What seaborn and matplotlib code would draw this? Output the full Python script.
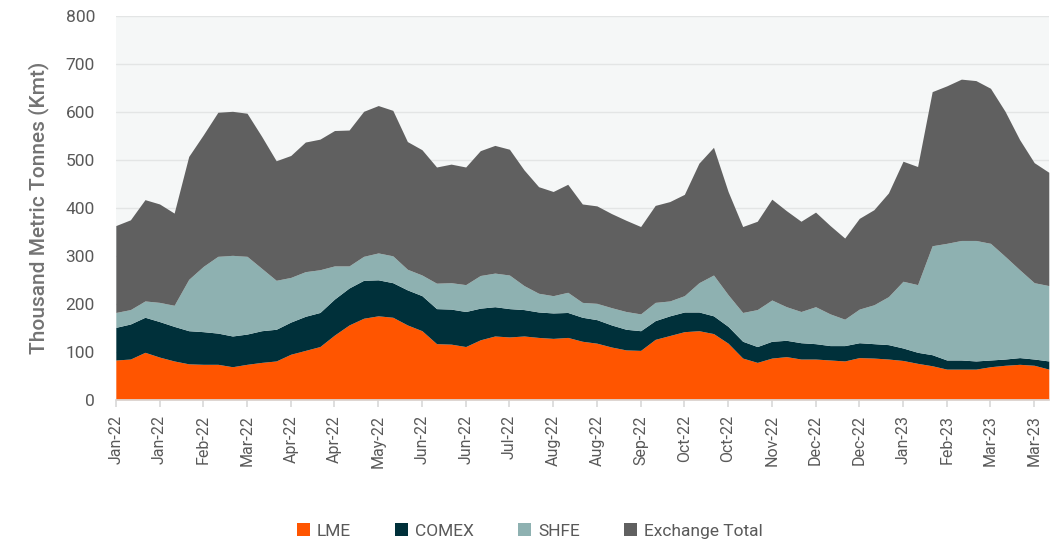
import numpy as np
import pandas as pd
import matplotlib
matplotlib.use("Agg")
import matplotlib.pyplot as plt
from matplotlib.patches import Patch
import seaborn as sns

# weekly stocks, Jan-22 .. Mar-23 (Kmt)
lme = [83, 85, 99, 89, 81, 75, 74, 74, 69, 74, 78, 81, 95, 103, 111, 135, 156,
       170, 175, 172, 156, 144, 117, 116, 111, 125, 133, 131, 133, 130, 128, 130, 122,
       118, 110, 104, 103, 126, 134, 142, 144, 138, 118, 87, 78, 87, 90, 85, 85,
       83, 81, 88, 87, 85, 82, 76, 71, 64, 64, 64, 69, 72, 74, 72, 64]
comex = [68, 73, 73, 74, 72, 69, 68, 65, 64, 63, 66, 66, 67, 71, 71, 75, 77,
         79, 75, 72, 73, 73, 73, 73, 73, 66, 61, 59, 55, 53, 53, 52, 50,
         49, 46, 43, 41, 39, 41, 41, 39, 37, 35, 35, 33, 35, 34, 34, 32,
         30, 32, 31, 30, 30, 26, 23, 23, 19, 19, 17, 14, 13, 14, 13, 17]
shfe = [31, 30, 34, 40, 44, 107, 136, 160, 168, 162, 130, 102, 93, 93, 89, 69, 46,
        50, 56, 56, 43, 43, 53, 55, 56, 68, 70, 70, 50, 39, 36, 42, 31,
        34, 36, 37, 35, 38, 31, 34, 61, 85, 66, 60, 77, 86, 70, 65, 77,
        66, 55, 70, 81, 100, 139, 141, 227, 243, 249, 251, 243, 214, 183, 159, 157]
total = [181, 187, 211, 205, 192, 256, 274, 300, 300, 298, 275, 249, 254, 270, 272, 282, 283,
         302, 307, 303, 266, 261, 242, 247, 245, 260, 266, 262, 241, 222, 217, 225, 205,
         203, 196, 190, 182, 202, 207, 211, 249, 266, 215, 179, 184, 210, 200, 188, 197,
         184, 169, 189, 198, 216, 250, 246, 321, 328, 336, 333, 323, 302, 271, 250, 236]

tick_labels = ['Jan-22', 'Jan-22', 'Feb-22', 'Mar-22', 'Apr-22', 'Apr-22', 'May-22',
               'Jun-22', 'Jun-22', 'Jul-22', 'Aug-22', 'Aug-22', 'Sep-22', 'Oct-22',
               'Oct-22', 'Nov-22', 'Dec-22', 'Dec-22', 'Jan-23', 'Feb-23', 'Mar-23', 'Mar-23']

series_names = ['LME', 'COMEX', 'SHFE', 'Exchange Total']
colors = ['#FF5500', '#00303A', '#8EB1B1', '#606060']

weeks = np.arange(len(lme))
df = pd.DataFrame({
    'week': np.tile(weeks, 4),
    'value': np.concatenate([lme, comex, shfe, total]),
    'exchange': np.repeat(series_names, len(lme)),
})

sns.set_theme(style='white')
plt.rcParams['font.family'] = ['Roboto', 'DejaVu Sans']

fig = plt.figure(figsize=(10.53, 5.44), dpi=100)
ax = fig.add_axes([0.110, 0.265, 0.886, 0.706])
ax.set_facecolor('#F5F7F7')

# last hue level ends up at the bottom of the stack
sns.histplot(data=df, x='week', weights='value', hue='exchange',
             hue_order=series_names[::-1], palette=dict(zip(series_names, colors)),
             multiple='stack', element='poly', discrete=True, alpha=1,
             linewidth=0, legend=False, ax=ax)

ax.set_xlim(0, len(lme) - 1)
ax.set_ylim(0, 800)
ax.set_yticks(range(0, 801, 100))
ax.set_xticks(weeks[::3])
ax.set_xticklabels(tick_labels, rotation=90)
ax.set_axisbelow(True)
ax.yaxis.grid(True, color='#E3E5E5', linewidth=1)
ax.xaxis.grid(False)

for s in ['top', 'right', 'left']:
    ax.spines[s].set_visible(False)
ax.spines['bottom'].set_color('#D9D9D9')

ax.tick_params(axis='x', bottom=True, length=5, color='#D9D9D9', labelsize=11.5,
               labelcolor='#595959', pad=6)
ax.tick_params(axis='y', left=False, labelsize=12.5, labelcolor='#595959', pad=9)

ax.set_xlabel('')
ax.set_ylabel('Thousand Metric Tonnes (Kmt)', fontsize=15, color='#737373',
              fontweight='medium', labelpad=12)

handles = [Patch(facecolor=c, edgecolor='none', label=n) for n, c in zip(series_names, colors)]
fig.legend(handles=handles, loc='center', bbox_to_anchor=(0.503, 1 - 531 / 544),
           ncol=4, frameon=False, fontsize=12.5, handlelength=0.75, handleheight=0.75,
           handletextpad=0.4, columnspacing=2.55, labelcolor='#595959')

fig.savefig('out.png', dpi=100)
